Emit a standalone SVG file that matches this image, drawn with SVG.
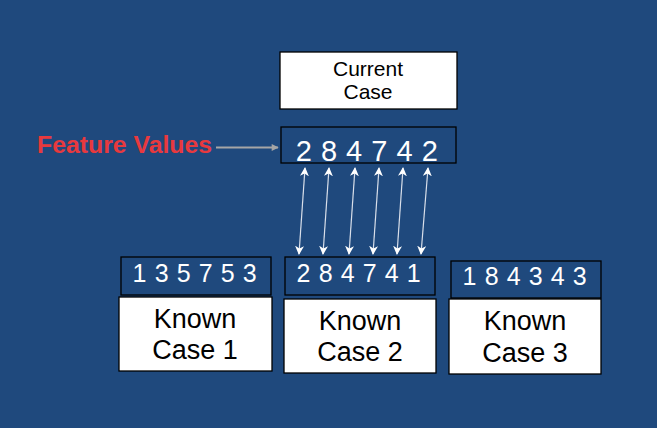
<svg xmlns="http://www.w3.org/2000/svg" width="657" height="428" viewBox="0 0 657 428">
<defs>
<style>
.bg{fill:#1F497D}
.wbox{fill:#FFFFFF;stroke:#000000;stroke-width:1.3}
.vbox{fill:#1F497D;stroke:#000000;stroke-width:1.3}
.t{font-family:"Liberation Sans",Arial,sans-serif;text-anchor:middle}
.blk{fill:#000000}
.wht{fill:#FFFFFF}
.conn{stroke:#D9DFEA;stroke-width:1.2;fill:none;marker-start:url(#ah);marker-end:url(#ah)}
</style>
<marker id="ah" viewBox="0 0 10 10" refX="9" refY="5" markerWidth="9" markerHeight="9" markerUnits="userSpaceOnUse" orient="auto-start-reverse">
<path d="M0,0 L10,5 L0,10 L3,5 z" fill="#FFFFFF"/>
</marker>
<marker id="ag" viewBox="0 0 10 10" refX="9" refY="5" markerWidth="8" markerHeight="7" markerUnits="userSpaceOnUse" orient="auto">
<path d="M0,0 L10,5 L0,10 z" fill="#A6A6A6"/>
</marker>
</defs>
<rect class="bg" x="0" y="0" width="657" height="428"/>
<g id="current-case">
<rect class="wbox" x="280" y="52" width="177" height="57"/>
<text class="t blk" x="368" y="76" font-size="21">Current</text>
<text class="t blk" x="368" y="99" font-size="21">Case</text>
</g>
<g id="feature-values-label">
<text x="37" y="153" font-family="Liberation Sans,Arial,sans-serif" font-weight="bold" font-size="24.8" fill="#E8393E">Feature Values</text>
</g>
<g id="current-values">
<rect class="vbox" x="281" y="127" width="175" height="36"/>
<text class="t wht" x="367" y="161" font-size="29" letter-spacing="0.5">2 8 4 7 4 2</text>
</g>
<g id="known-case-1">
<rect class="vbox" x="121" y="257" width="150" height="38"/>
<text class="t wht" x="195" y="282" font-size="25" letter-spacing="0.6">1 3 5 7 5 3</text>
<rect class="wbox" x="119" y="297" width="153" height="74"/>
<text class="t blk" x="195" y="327.5" font-size="27">Known</text>
<text class="t blk" x="195" y="359" font-size="27">Case 1</text>
</g>
<g id="known-case-2">
<rect class="vbox" x="285" y="257" width="150" height="38"/>
<text class="t wht" x="359" y="282" font-size="25" letter-spacing="0.6">2 8 4 7 4 1</text>
<rect class="wbox" x="284" y="299" width="152" height="74"/>
<text class="t blk" x="360" y="329.5" font-size="27">Known</text>
<text class="t blk" x="360" y="361" font-size="27">Case 2</text>
</g>
<g id="known-case-3">
<rect class="vbox" x="451" y="261" width="150" height="37"/>
<text class="t wht" x="525" y="285" font-size="25" letter-spacing="0.6">1 8 4 3 4 3</text>
<rect class="wbox" x="449" y="299" width="152" height="75"/>
<text class="t blk" x="525" y="330" font-size="27">Known</text>
<text class="t blk" x="525" y="361.5" font-size="27">Case 3</text>
</g>
<g id="connectors">
<line x1="216" y1="147.5" x2="278" y2="147.5" stroke="#A6A6A6" stroke-width="1.8" marker-end="url(#ag)"/>
<line class="conn" x1="305" y1="168" x2="299" y2="254"/>
<line class="conn" x1="329" y1="168" x2="323" y2="254"/>
<line class="conn" x1="355" y1="168" x2="349" y2="254"/>
<line class="conn" x1="379" y1="168" x2="373" y2="254"/>
<line class="conn" x1="403" y1="168" x2="397" y2="254"/>
<line class="conn" x1="428" y1="168" x2="421" y2="254"/>
</g>
</svg>
